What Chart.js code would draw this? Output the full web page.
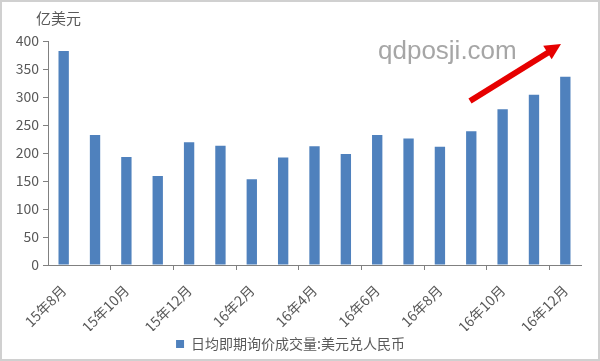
<!DOCTYPE html>
<html>
<head>
<meta charset="utf-8">
<script src="https://cdn.jsdelivr.net/npm/chart.js@4/dist/chart.umd.min.js"></script>
<style>
  html, body { margin: 0; padding: 0; background: #fff; }
  #wrap { width: 600px; height: 361px; position: relative; }
</style>
</head>
<body>
<div id="wrap"><canvas id="barChart" width="600" height="361"></canvas></div>
<script>
// Months shown on the x axis
const months = ['15年8月', '15年9月', '15年10月', '15年11月', '15年12月', '16年1月', '16年2月', '16年3月',
  '16年4月', '16年5月', '16年6月', '16年7月', '16年8月', '16年9月', '16年10月', '16年11月', '16年12月'];

// Daily average spot volume, USD/CNY (亿美元)
const volume = [382, 232, 193, 159, 219, 213, 153, 192, 212, 198, 232, 226, 211, 239, 278, 304, 336];

// Y axis ticks
const yTicks = [0, 50, 100, 150, 200, 250, 300, 350, 400];

const seriesName = '日均即期询价成交量:美元兑人民币';
const gray = '#595959';
const fontFamily = '"Noto Sans CJK SC", "Liberation Sans", sans-serif';

// Frame, unit label, watermark and arrow
const decorations = {
  id: 'decorations',
  afterDraw(chart) {
    const c = chart.ctx;
    c.save();
    c.strokeStyle = '#d0d0d0';
    c.lineWidth = 2;
    c.strokeRect(1, 1, 598, 359);

    c.fillStyle = gray;
    c.font = '15px ' + fontFamily;
    c.textBaseline = 'middle';
    c.fillText('亿美元', 36, 18);

    c.fillStyle = '#a6a6a6';
    c.font = '26px "Liberation Sans", Arial, sans-serif';
    c.textBaseline = 'alphabetic';
    c.fillText('qdposji.com', 378, 59);

    // red arrow
    c.strokeStyle = '#e60000';
    c.fillStyle = '#e60000';
    c.lineWidth = 6;
    c.beginPath();
    c.moveTo(470, 101);
    c.lineTo(549, 52);
    c.stroke();
    const ang = Math.atan2(44 - 101, 561 - 470);
    c.beginPath();
    c.moveTo(561, 44);
    c.lineTo(561 - 16 * Math.cos(ang) + 8 * Math.sin(ang), 44 - 16 * Math.sin(ang) - 8 * Math.cos(ang));
    c.lineTo(561 - 16 * Math.cos(ang) - 8 * Math.sin(ang), 44 - 16 * Math.sin(ang) + 8 * Math.cos(ang));
    c.closePath();
    c.fill();
    c.restore();
  }
};

const ctx = document.getElementById('barChart').getContext('2d');

const chart = new Chart(ctx, {
  type: 'bar',
  data: {
    labels: months,
    datasets: [{
      label: seriesName,
      data: volume,
      backgroundColor: '#4f81bd',
      categoryPercentage: 1,
      barPercentage: 0.33
    }]
  },
  options: {
    responsive: false,
    animation: false,
    layout: { padding: { top: 41, right: 19, bottom: 0, left: 0 } },
    plugins: {
      tooltip: { enabled: false },
      legend: {
        position: 'bottom',
        labels: {
          color: gray,
          font: { family: fontFamily, size: 14 },
          boxWidth: 8,
          boxHeight: 8,
          padding: 6
        }
      }
    },
    scales: {
      x: {
        offset: true,
        border: { color: '#808080' },
        grid: {
          drawOnChartArea: false,
          offset: true,
          tickLength: 5,
          tickColor: (c) => (c.index > 0 && c.index % 2 === 0 ? '#808080' : 'rgba(0,0,0,0)')
        },
        ticks: {
          autoSkip: false,
          minRotation: 45,
          maxRotation: 45,
          color: gray,
          padding: 12,
          font: { family: fontFamily, size: 14 },
          callback: (v, i) => (i % 2 === 0 ? months[i] : '')
        },
        afterFit: (s) => { s.height = 66; }
      },
      y: {
        min: 0,
        max: 400,
        border: { color: '#808080' },
        grid: { drawOnChartArea: false, tickLength: 5, tickColor: '#808080' },
        ticks: {
          stepSize: 50,
          color: gray,
          padding: 4,
          font: { family: fontFamily, size: 14 },
          callback: (v) => (yTicks.includes(v) ? v : '')
        },
        afterFit: (s) => { s.width = 48; }
      }
    }
  },
  plugins: [decorations]
});
</script>
</body>
</html>
